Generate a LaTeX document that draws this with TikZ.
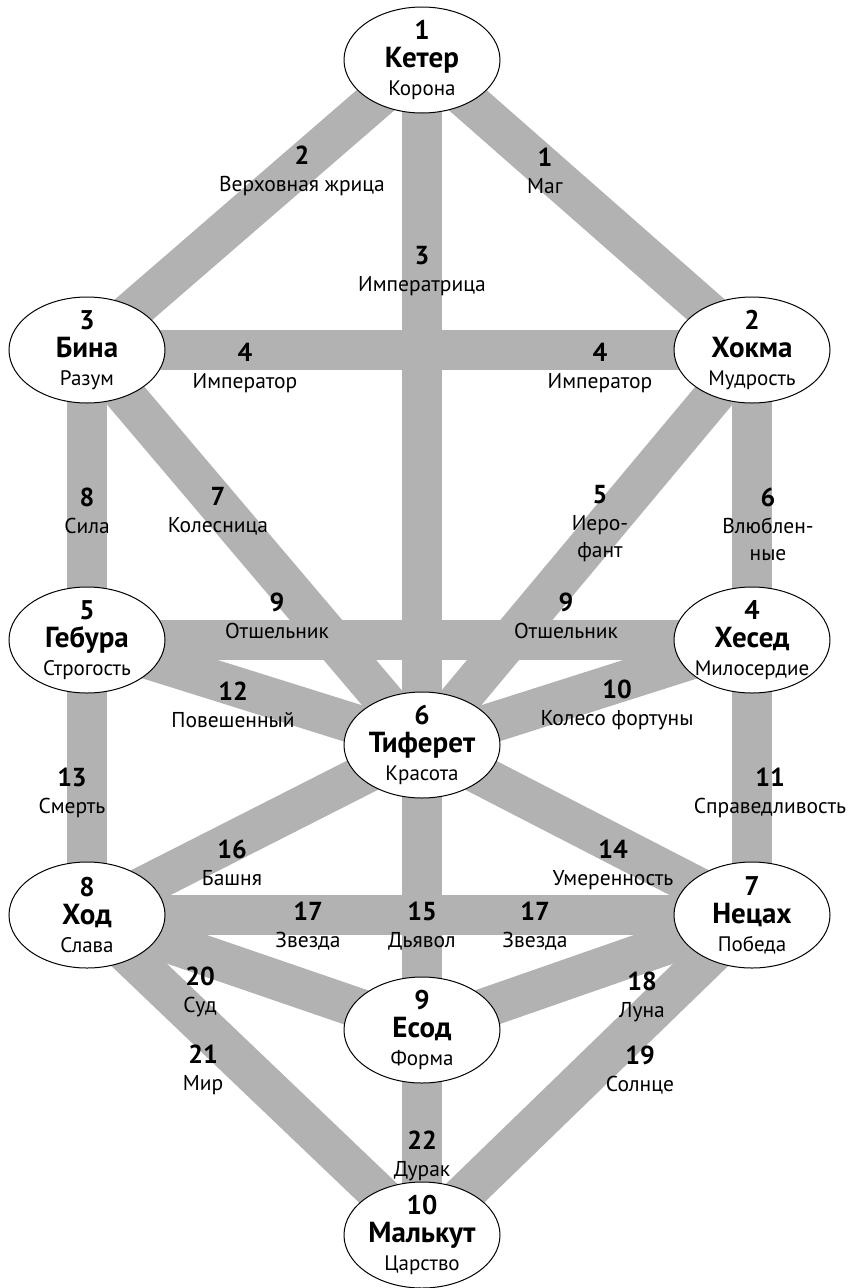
\documentclass[tikz,border=0pt]{standalone}
\usepackage{fontspec}
\setmainfont{PT Sans}
\usetikzlibrary{shapes.geometric,backgrounds}

\tikzset{
  sefira/.style={ellipse, draw, line width=1pt, fill=white, minimum width=156pt,
    minimum height=106pt, inner sep=-14pt, align=center,
    font=\fontsize{21}{28}\selectfont},
  band/.style={line width=40pt, gray!60},
  lab/.style={align=center, inner sep=0pt, font=\fontsize{21.5}{27}\selectfont}
}
\newcommand{\sef}[3]{{\fontsize{27}{28}\selectfont\bfseries #1}\\{\fontsize{29}{28}\selectfont\bfseries #2}\\#3}
\newcommand{\arc}[2]{{\fontsize{26}{27}\selectfont\bfseries #1}\\#2}

\begin{document}
\begin{tikzpicture}[x=1pt,y=-1pt]
\useasboundingbox (0,0) rectangle (855,1288);
% Sefirot
\node[sefira] (keter)   at (422,60)   {\sef{1}{Кетер}{Корона}};
\node[sefira] (bina)    at (87,350)   {\sef{3}{Бина}{Разум}};
\node[sefira] (hokma)   at (752,350)  {\sef{2}{Хокма}{Мудрость}};
\node[sefira] (gebura)  at (87,640)   {\sef{5}{Гебура}{Строгость}};
\node[sefira] (hesed)   at (752,640)  {\sef{4}{Хесед}{Милосердие}};
\node[sefira] (tiferet) at (422,745)  {\sef{6}{Тиферет}{Красота}};
\node[sefira] (hod)     at (87,915)   {\sef{8}{Ход}{Слава}};
\node[sefira] (netsah)  at (752,915)  {\sef{7}{Нецах}{Победа}};
\node[sefira] (yesod)   at (422,1030) {\sef{9}{Есод}{Форма}};
\node[sefira] (malkut)  at (422,1235) {\sef{10}{Малькут}{Царство}};
% Paths
\begin{scope}[on background layer]
\foreach \a/\b in {keter/bina, keter/hokma, keter/tiferet, bina/hokma, bina/gebura,
    bina/tiferet, hokma/tiferet, hokma/hesed, gebura/hesed, gebura/tiferet,
    hesed/tiferet, gebura/hod, hesed/netsah, tiferet/hod, tiferet/netsah,
    tiferet/yesod, hod/netsah, hod/yesod, netsah/yesod, hod/malkut,
    netsah/malkut, yesod/malkut}
  \draw[band] (\a.center) -- (\b.center);
\end{scope}
% Arcana
\node[lab] (p2)  at (302,171)  {\arc{2}{Верховная жрица}};
\node[lab] (p1)  at (545,171)  {\arc{1}{Маг}};
\node[lab] (p3)  at (422,271)  {\arc{3}{Императрица}};
\node[lab] (p4a) at (245,368)  {\arc{4}{Император}};
\node[lab] (p4b) at (600,368)  {\arc{4}{Император}};
\node[lab] (p8)  at (87,511)   {\arc{8}{Сила}};
\node[lab] (p7)  at (218,511)  {\arc{7}{Колесница}};
\node[lab] (p5)  at (600,524)  {\arc{5}{Иеро-\\фант}};
\node[lab] (p6)  at (768,524)  {\arc{6}{Влюблен-\\ные}};
\node[lab] (p9a) at (277,616)  {\arc{9}{Отшельник}};
\node[lab] (p9b) at (566,616)  {\arc{9}{Отшельник}};
\node[lab] (p12) at (233,705)  {\arc{12}{Повешенный}};
\node[lab] (p10) at (617,705)  {\arc{10}{Колесо фортуны}};
\node[lab] (p13) at (72,793)   {\arc{13}{Смерть}};
\node[lab] (p11) at (770,793)  {\arc{11}{Справедливость}};
\node[lab] (p16) at (232,863)  {\arc{16}{Башня}};
\node[lab] (p14) at (613,865)  {\arc{14}{Умеренность}};
\node[lab] (p17a) at (308,926) {\arc{17}{Звезда}};
\node[lab] (p15) at (422,926)  {\arc{15}{Дьявол}};
\node[lab] (p17b) at (535,926) {\arc{17}{Звезда}};
\node[lab] (p20) at (200,992)  {\arc{20}{Суд}};
\node[lab] (p18) at (642,997)  {\arc{18}{Луна}};
\node[lab] (p21) at (203,1070) {\arc{21}{Мир}};
\node[lab] (p19) at (640,1070) {\arc{19}{Солнце}};
\node[lab] (p22) at (422,1156) {\arc{22}{Дурак}};
\end{tikzpicture}
\end{document}
